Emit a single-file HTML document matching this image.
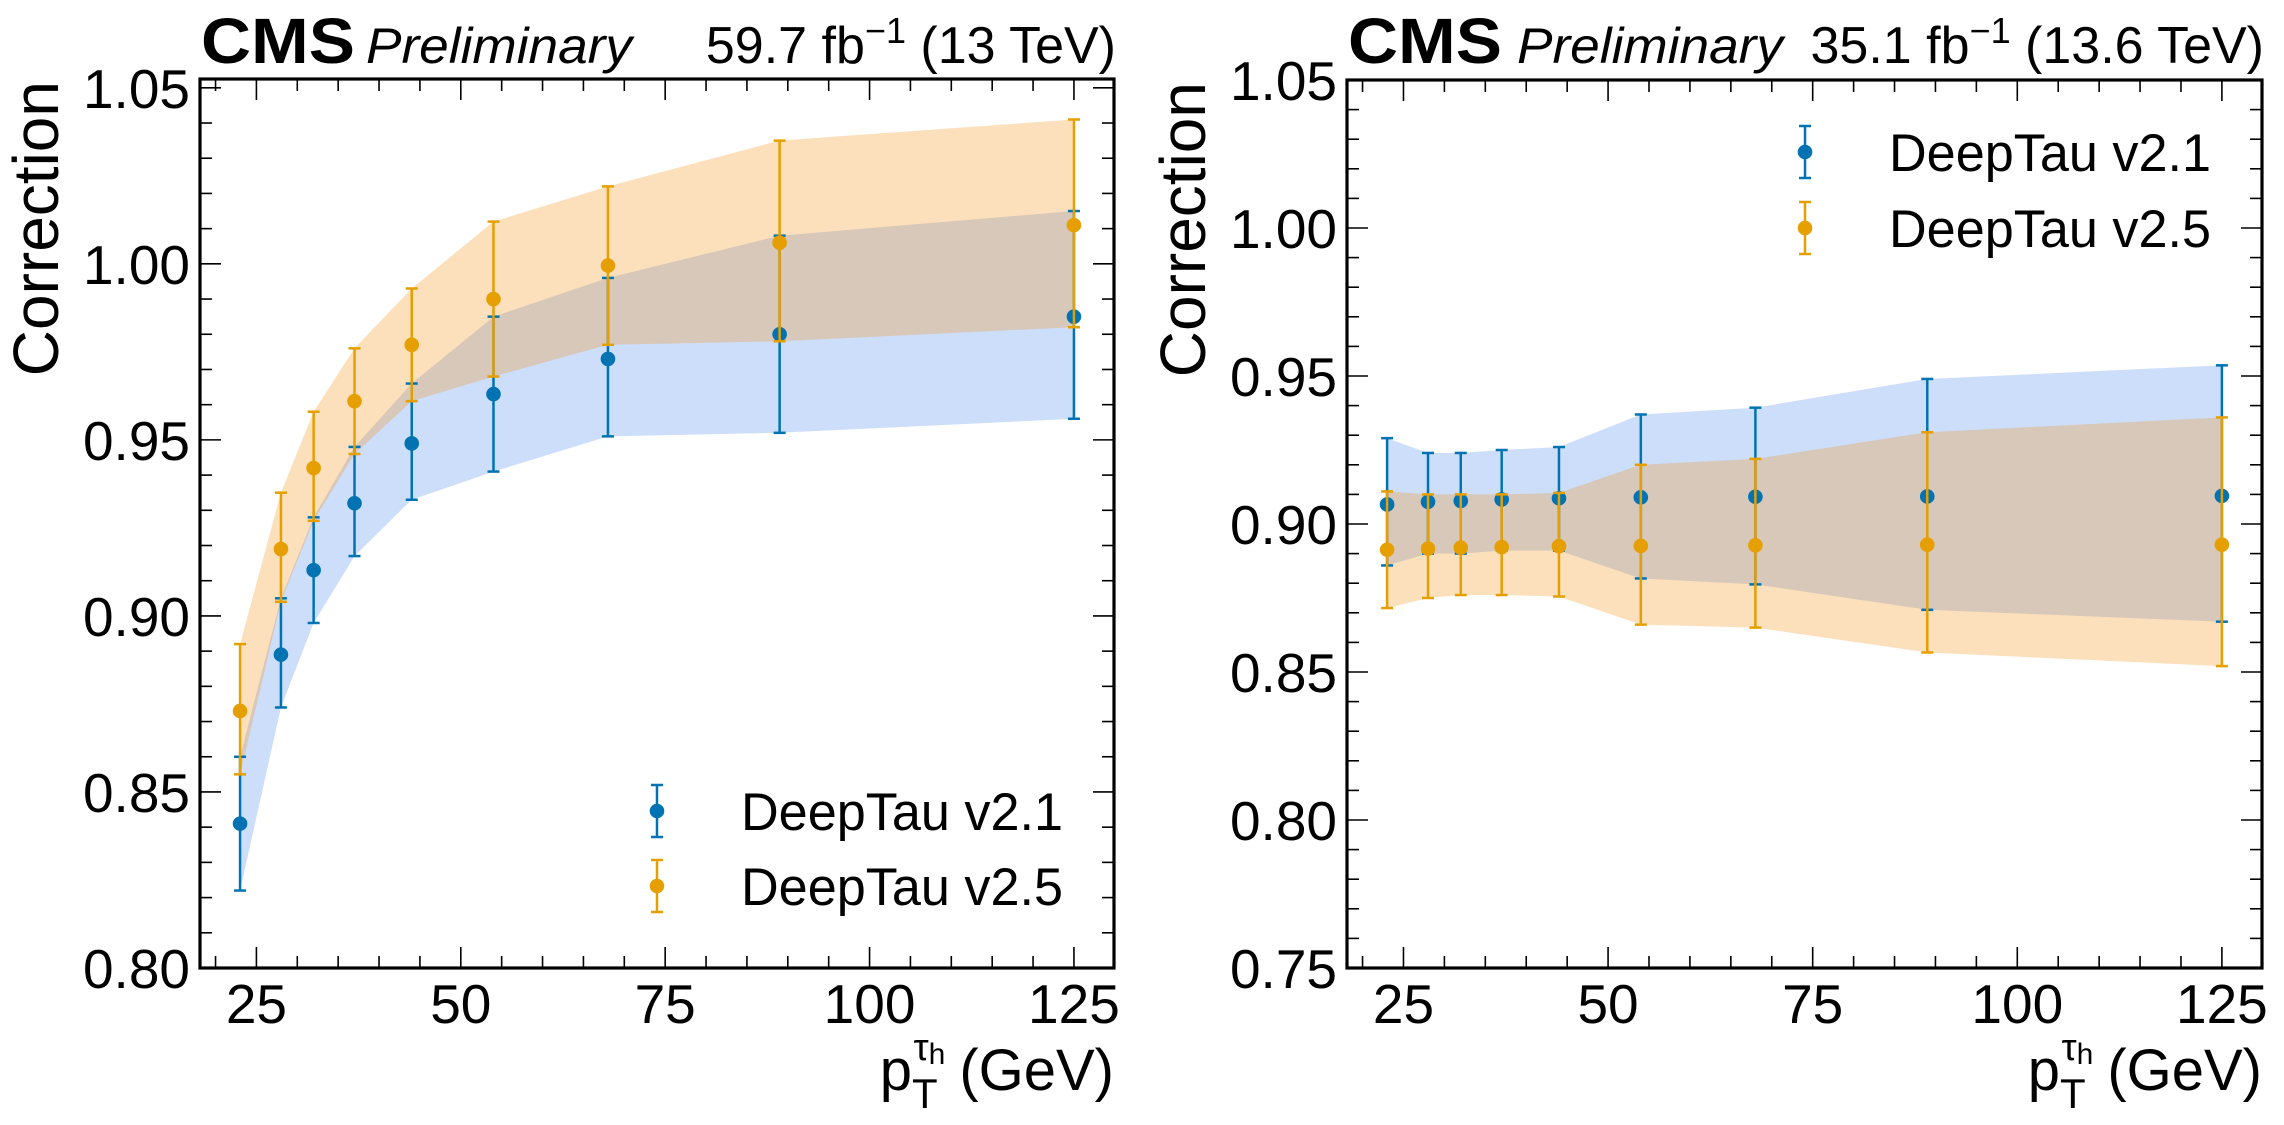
<!DOCTYPE html>
<html><head><meta charset="utf-8"><style>
html,body{margin:0;padding:0;background:#fff;}
svg{display:block;font-family:"Liberation Sans",Arial,sans-serif;}
</style></head><body>
<svg id="fig" width="2284" height="1125" viewBox="0 0 2284 1125" xmlns="http://www.w3.org/2000/svg"></svg>
<script>
const ptBins = [23, 28, 32, 37, 44, 54, 68, 89, 125];
// left panel (59.7 fb-1, 13 TeV)
const leftV21 = [0.841, 0.889, 0.913, 0.932, 0.949, 0.963, 0.973, 0.980, 0.985];
const leftV21Lo = [0.822, 0.874, 0.898, 0.917, 0.933, 0.941, 0.951, 0.952, 0.956];
const leftV21Hi = [0.860, 0.905, 0.928, 0.948, 0.966, 0.985, 0.996, 1.008, 1.015];
const leftV25 = [0.873, 0.919, 0.942, 0.961, 0.977, 0.990, 0.9995, 1.006, 1.011];
const leftV25Lo = [0.855, 0.904, 0.927, 0.946, 0.961, 0.968, 0.977, 0.978, 0.982];
const leftV25Hi = [0.892, 0.935, 0.958, 0.976, 0.993, 1.012, 1.022, 1.035, 1.041];
// right panel (35.1 fb-1, 13.6 TeV)
const rightV21 = [0.9066, 0.9075, 0.9078, 0.9083, 0.9087, 0.909, 0.9092, 0.9093, 0.9095];
const rightV21Lo = [0.886, 0.890, 0.890, 0.891, 0.891, 0.8816, 0.8796, 0.871, 0.867];
const rightV21Hi = [0.929, 0.924, 0.924, 0.925, 0.926, 0.937, 0.9393, 0.949, 0.9536];
const rightV25 = [0.8913, 0.8917, 0.892, 0.8922, 0.8925, 0.8926, 0.8928, 0.893, 0.893];
const rightV25Lo = [0.8716, 0.875, 0.876, 0.876, 0.8755, 0.866, 0.865, 0.8566, 0.852];
const rightV25Hi = [0.911, 0.910, 0.910, 0.910, 0.9105, 0.920, 0.922, 0.931, 0.936];
const leftYTicks = ["0.80", "0.85", "0.90", "0.95", "1.00", "1.05"];
const rightYTicks = ["0.75", "0.80", "0.85", "0.90", "0.95", "1.00", "1.05"];
const xTicks = [25, 50, 75, 100, 125];
const seriesNames = ["DeepTau v2.1", "DeepTau v2.5"];

const NS = "http://www.w3.org/2000/svg";
const svg = document.getElementById('fig');
function mk(tag, attrs, parent, text) {
  const e = document.createElementNS(NS, tag);
  for (const k in attrs) e.setAttribute(k, attrs[k]);
  if (text !== undefined) e.textContent = text;
  (parent || svg).appendChild(e);
  return e;
}
const BLUE = '#0173b2', ORANGE = '#e69f00';

function panel(cfg) {
  const g = mk('g', {});
  
  
  const L = cfg.left, R = cfg.right, T = cfg.top, B = cfg.bottom;
  const xmin = 18.1, xmax = 129.9;
  const sx = v => L + (v - xmin) / (xmax - xmin) * (R - L);
  const sy = v => B - (v - cfg.ymin) / (cfg.ymax - cfg.ymin) * (B - T);

  function band(lo, hi, fill, op, nm) {
    let d = '';
    ptBins.forEach((x, i) => { d += (i ? 'L' : 'M') + sx(x).toFixed(1) + ',' + sy(hi[i]).toFixed(1); });
    for (let i = ptBins.length - 1; i >= 0; i--) d += 'L' + sx(ptBins[i]).toFixed(1) + ',' + sy(lo[i]).toFixed(1);
    const p = mk('path', { d: d + 'Z', fill: fill, 'fill-opacity': op }, g);
    
    
  }
  band(cfg.b.lo, cfg.b.hi, '#cddefb', 1, 'band-v21');
  band(cfg.o.lo, cfg.o.hi, '#f49010', 0.28, 'band-v25');

  function points(s, col, nm) {
    ptBins.forEach((x, i) => {
      const cx = sx(x);
      const pg = mk('g', { stroke: col, 'stroke-width': 2.5 }, g);
      
      
      mk('line', { x1: cx, x2: cx, y1: sy(s.lo[i]), y2: sy(s.hi[i]) }, pg);
      mk('line', { x1: cx - 6, x2: cx + 6, y1: sy(s.lo[i]), y2: sy(s.lo[i]) }, pg);
      mk('line', { x1: cx - 6, x2: cx + 6, y1: sy(s.hi[i]), y2: sy(s.hi[i]) }, pg);
      mk('circle', { cx: cx, cy: sy(s.v[i]), r: 7.3, fill: col, stroke: 'none' }, pg);
    });
  }
  points(cfg.b, BLUE, 'v21');
  points(cfg.o, ORANGE, 'v25');

  const tg = mk('g', { stroke: '#000', 'stroke-width': 1.6 }, g);
  
  
  for (let v = 20; v <= 129; v += 5) {
    const x = sx(v), len = (v % 25 === 0) ? 21 : 12;
    mk('line', { x1: x, x2: x, y1: B, y2: B - len }, tg);
    mk('line', { x1: x, x2: x, y1: T, y2: T + len }, tg);
  }
  for (let k = Math.round(cfg.ymin * 100); k <= Math.floor(cfg.ymax * 100 + 1e-6); k++) {
    const y = sy(k / 100), len = (k % 5 === 0) ? 21 : 12;
    mk('line', { x1: L, x2: L + len, y1: y, y2: y }, tg);
    mk('line', { x1: R, x2: R - len, y1: y, y2: y }, tg);
  }
  const fr = mk('rect', { x: L, y: T, width: R - L, height: B - T, fill: 'none', stroke: '#000', 'stroke-width': 3.2 }, g);
  
  

  cfg.yt.forEach(t => {
    const e = mk('text', { x: L - 10, y: sy(parseFloat(t)) + 20, 'font-size': 55, 'text-anchor': 'end' }, g, t);
    
    
  });
  xTicks.forEach(t => {
    const e = mk('text', { x: sx(t), y: 1023, 'font-size': 55, 'text-anchor': 'middle' }, g, String(t));
    
    
  });
  const yt = mk('text', { x: 0, y: 0, 'font-size': 64, 'text-anchor': 'end', transform: `translate(${L - 142},${T + 2}) rotate(-90)` }, g, 'Correction');
  
  
  const xt = mk('text', { x: R, y: 1090, 'font-size': 58, 'text-anchor': 'end' }, g);
  
  
  mk('tspan', {}, xt, 'p');
  mk('tspan', { 'font-size': 42, dy: 18 }, xt, 'T');
  mk('tspan', { 'font-size': 38, dy: -48, dx: -24 }, xt, 'τ');
  mk('tspan', { 'font-size': 30, dy: 4 }, xt, 'h');
  mk('tspan', { dy: 26, dx: 14 }, xt, '(GeV)');
  const c = mk('text', { x: L + 1, y: 63, 'font-size': 64, 'font-weight': 'bold', textLength: 154, lengthAdjust: 'spacingAndGlyphs' }, g, 'CMS');
  
  
  const pr = mk('text', { x: cfg.prelimX, y: 63, 'font-size': 50, 'font-style': 'italic', textLength: 266, lengthAdjust: 'spacingAndGlyphs' }, g, 'Preliminary');
  
  
  const lu = mk('text', { x: R + 2, y: 63, 'font-size': 52, 'text-anchor': 'end' }, g);
  
  
  mk('tspan', {}, lu, cfg.lumi + ' fb');
  mk('tspan', { 'font-size': 36, dy: -20 }, lu, '−1');
  mk('tspan', { dy: 20 }, lu, ' ' + cfg.energy);
  [[BLUE, seriesNames[0]], [ORANGE, seriesNames[1]]].forEach((s, i) => {
    const ly = cfg.legY[i];
    const lg = mk('g', {}, g);
    
    
    mk('line', { x1: cfg.legX, x2: cfg.legX, y1: ly - 26, y2: ly + 26, stroke: s[0], 'stroke-width': 2.5 }, lg);
    mk('line', { x1: cfg.legX - 6, x2: cfg.legX + 6, y1: ly - 26, y2: ly - 26, stroke: s[0], 'stroke-width': 2.5 }, lg);
    mk('line', { x1: cfg.legX - 6, x2: cfg.legX + 6, y1: ly + 26, y2: ly + 26, stroke: s[0], 'stroke-width': 2.5 }, lg);
    mk('circle', { cx: cfg.legX, cy: ly, r: 7.3, fill: s[0] }, lg);
    mk('text', { x: cfg.legX + 84, y: ly + 19, 'font-size': 53, textLength: 322, lengthAdjust: 'spacingAndGlyphs' }, lg, s[1]);
  });
}

panel({ name: 'left-panel', left: 200, right: 1114, top: 79, bottom: 968, ymin: 0.80, ymax: 1.0525,
  b: { v: leftV21, lo: leftV21Lo, hi: leftV21Hi }, o: { v: leftV25, lo: leftV25Lo, hi: leftV25Hi },
  yt: leftYTicks, lumi: '59.7', energy: '(13 TeV)', prelimX: 366, legX: 657, legY: [811, 886] });
panel({ name: 'right-panel', left: 1347, right: 2262, top: 80, bottom: 968, ymin: 0.75, ymax: 1.05,
  b: { v: rightV21, lo: rightV21Lo, hi: rightV21Hi }, o: { v: rightV25, lo: rightV25Lo, hi: rightV25Hi },
  yt: rightYTicks, lumi: '35.1', energy: '(13.6 TeV)', prelimX: 1517, legX: 1805, legY: [152, 228] });
</script>
</body></html>
